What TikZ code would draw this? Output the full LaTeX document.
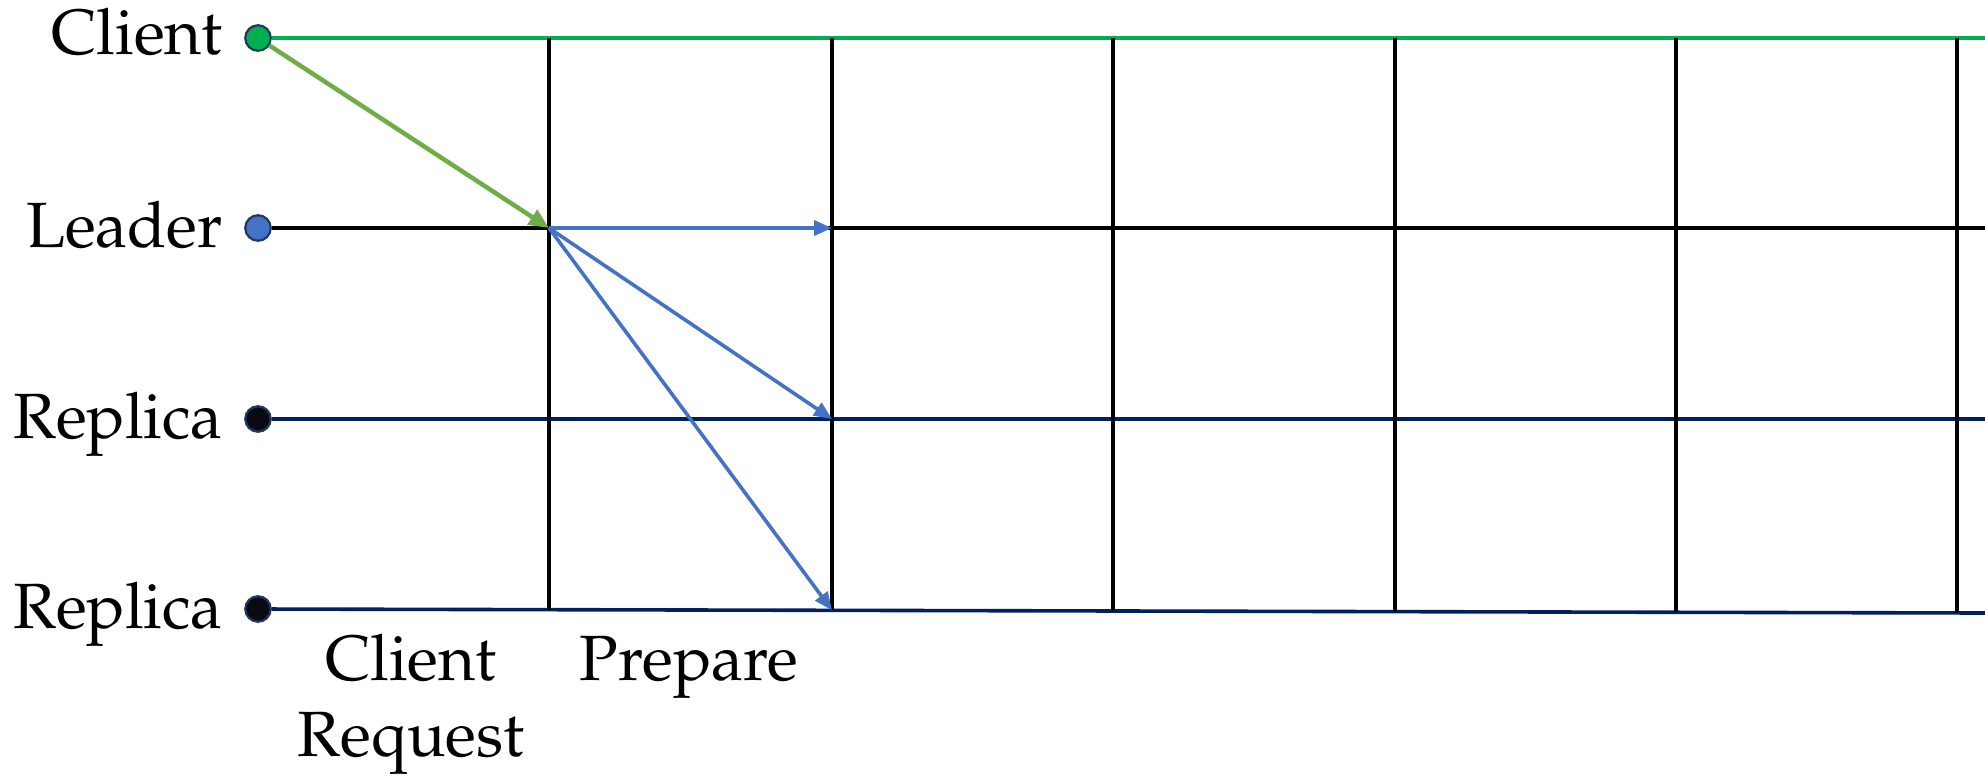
\documentclass[tikz,border=0pt]{standalone}
\usepackage[T1]{fontenc}
\usepackage{mathpazo}
\usetikzlibrary{arrows.meta}
\definecolor{cgreen}{HTML}{00B050}
\definecolor{agreen}{HTML}{70AD47}
\definecolor{cblue}{HTML}{4472C4}
\definecolor{navy}{HTML}{002060}
\definecolor{ring}{HTML}{1F3864}
\definecolor{dotblack}{HTML}{0A0A12}
\begin{document}
\begin{tikzpicture}[x=1pt,y=-1pt,
  dot/.style={circle,draw=ring,line width=2.2pt,minimum size=25.5pt,inner sep=0pt},
  lbl/.style={font=\fontsize{64}{76}\selectfont,inner sep=0pt},
  tl/.style={line width=3.6pt},
  vl/.style={line width=3.5pt,black},
  msg/.style={line width=3.6pt,cblue,-{Triangle[length=18pt,width=15pt]}},
]
\useasboundingbox (0,0) rectangle (1985,776);
% processes
\node[dot,fill=cgreen] (cC) at (258,38) {};
\node[dot,fill=cblue] (cL) at (258,228) {};
\node[dot,fill=dotblack] (cR1) at (258,419) {};
\node[dot,fill=dotblack] (cR2) at (258,609) {};
\node[lbl,anchor=base east] (tC) at (223,55) {Client};
\node[lbl,anchor=base east] (tL) at (223,247) {Leader};
\node[lbl,anchor=base east] (tR1) at (223,438) {Replica};
\node[lbl,anchor=base east] (tR2) at (223,628) {Replica};
% line ends
\coordinate (e0) at (1985,38);
\coordinate (e1) at (1985,228);
\coordinate (e2) at (1985,419);
\coordinate (e3) at (1985,613);
% timelines
\draw[tl,cgreen] (cC) -- (e0);
\draw[tl,black] (cL) -- (e1);
\draw[tl,navy] (cR1) -- (e2);
\draw[tl,navy] (cR2) -- (e3);
% phase separators
\coordinate (t1) at (549,38);  \coordinate (b1) at (549,609.7);
\coordinate (t2) at (832,38);  \coordinate (b2) at (832,610.3);
\coordinate (t3) at (1113,38); \coordinate (b3) at (1113,611);
\coordinate (t4) at (1395,38); \coordinate (b4) at (1395,611.6);
\coordinate (t5) at (1676,38); \coordinate (b5) at (1676,612.3);
\coordinate (t6) at (1957,38); \coordinate (b6) at (1957,612.9);
\foreach \i in {1,...,6}{\draw[vl] (t\i) -- (b\i);}
% messages
\coordinate (s) at (549,228);
\coordinate (r1) at (832,228);
\coordinate (r2) at (832,419);
\coordinate (r3) at (832,610.3);
\draw[line width=4.5pt,agreen,-{Triangle[length=20pt,width=17pt]}] (cC) -- (s);
\draw[msg] (s) -- (r1);
\draw[msg] (s) -- (r2);
\draw[msg] (s) -- (r3);
% phase labels
\node[lbl,anchor=base] (pC1) at (411,680) {Client};
\node[lbl,anchor=base] (pC2) at (411,756) {Request};
\node[lbl,anchor=base] (pP) at (689,680) {Prepare};
\end{tikzpicture}
\end{document}
